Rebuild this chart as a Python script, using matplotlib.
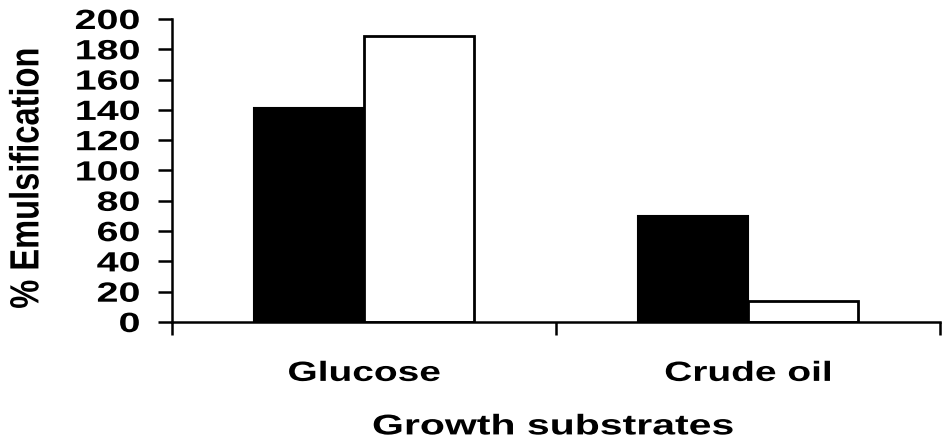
import numpy as np
import matplotlib
matplotlib.use("Agg")
import matplotlib.pyplot as plt
from matplotlib import patheffects
from matplotlib.transforms import Affine2D

# ---- data ----
categories = ["Glucose", "Crude oil"]
dark_values = [141, 70]
white_values = [189, 14]
y_ticks = [0, 20, 40, 60, 80, 100, 120, 140, 160, 180, 200]
x_label = "Growth substrates"
y_label = "% Emulsification"


class Stretch(patheffects.AbstractPathEffect):
    """Stretch glyph outlines (the source image is horizontally stretched)."""
    def __init__(self, sx=1.0, sy=1.0, anchor="center"):
        super().__init__()
        self.sx, self.sy, self.anchor = sx, sy, anchor

    def draw_path(self, renderer, gc, tpath, affine, rgbFace=None):
        v = tpath.vertices
        if len(v):
            x0, x1 = v[:, 0].min(), v[:, 0].max()
            y0, y1 = v[:, 1].min(), v[:, 1].max()
            axp = {"center": (x0 + x1) / 2, "right": x1, "left": x0}[self.anchor]
            ayp = (y0 + y1) / 2
            t = Affine2D().translate(-axp, -ayp).scale(self.sx, self.sy).translate(axp, ayp)
            affine = t + affine
        renderer.draw_path(gc, tpath, affine, rgbFace)


plt.rcParams["font.family"] = ["Liberation Sans", "DejaVu Sans"]
plt.rcParams["font.weight"] = "bold"

fig = plt.figure(figsize=(9.42, 4.44), dpi=100)
ax = fig.add_axes([172 / 942, 1 - 322 / 444, (940 - 172) / 942, (322 - 19) / 444])

x = np.arange(len(categories))
w = 0.286
ax.bar(x - w / 2, dark_values, width=w, color="black", edgecolor="black", linewidth=1.5)
ax.bar(x + w / 2, white_values, width=w, color="white", edgecolor="black", linewidth=2.0)

ax.set_xlim(-0.5, len(categories) - 0.5)
ax.set_ylim(0, 200)

for s in ["top", "right"]:
    ax.spines[s].set_visible(False)
for s in ["left", "bottom"]:
    ax.spines[s].set_linewidth(1.8)

# y ticks
ax.set_yticks(y_ticks)
ax.tick_params(axis="y", direction="out", length=10, width=1.8, pad=13, labelsize=20)
for lab in ax.get_yticklabels():
    lab.set_fontweight("bold")
    lab.set_path_effects([Stretch(sx=1.42, anchor="right")])

# x ticks: boundaries as major ticks, labels on minor ticks at centres
ax.set_xticks(np.arange(len(categories) + 1) - 0.5)
ax.set_xticklabels([])
ax.set_xticks(x, minor=True)
ax.set_xticklabels(categories, minor=True)
ax.tick_params(axis="x", which="major", direction="out", length=9, width=1.8)
ax.tick_params(axis="x", which="minor", length=0, pad=28, labelsize=20)
for lab in ax.get_xticklabels(minor=True):
    lab.set_fontweight("bold")
    lab.set_path_effects([Stretch(sx=1.4)])

xl = ax.set_xlabel(x_label, fontsize=20.5, fontweight="bold")
ax.xaxis.set_label_coords(0.496, -0.305)
xl.set_path_effects([Stretch(sx=1.44)])

yl = ax.set_ylabel(y_label, fontsize=23.5, fontweight="bold")
yl.set_verticalalignment("center")
ax.yaxis.set_label_coords((27 - 172) / 768, 0.474)
yl.set_path_effects([Stretch(sy=1.25)])

fig.savefig("out.png", dpi=100, facecolor="white")
